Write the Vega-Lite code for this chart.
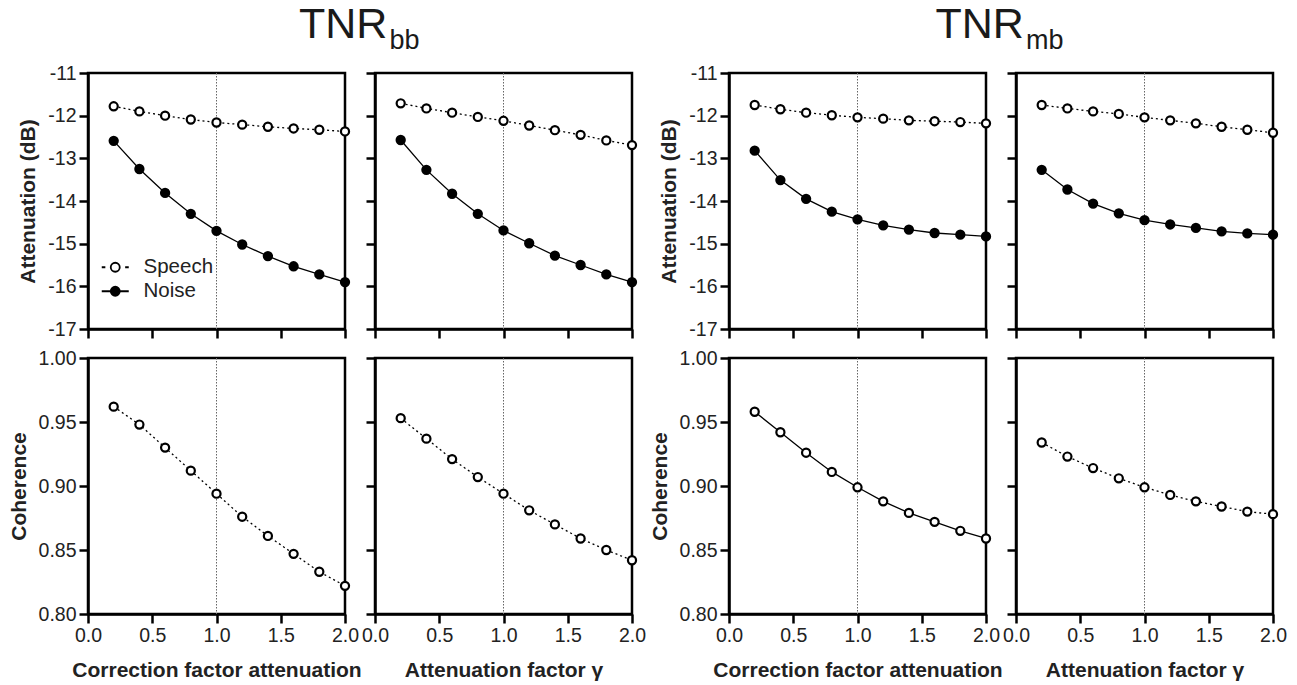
{
  "$schema": "https://vega.github.io/schema/vega-lite/v6.json",
  "padding": {"left": 6, "top": 2, "right": 0, "bottom": 0},
  "background": "white",
  "config": {
    "font": "Liberation Sans",
    "view": {"stroke": "black", "strokeWidth": 2.5},
    "axis": {
      "domainColor": "black", "domainWidth": 2.5, "tickColor": "black", "tickWidth": 2.5, "tickSize": 9,
      "labelFont": "Liberation Sans", "labelFontSize": 19.5, "labelColor": "#222", "labelPadding": 3,
      "titleFont": "Liberation Sans", "titleFontSize": 21, "titleFontWeight": "bold", "titleColor": "#222",
      "grid": false, "labelFlush": false, "labelOverlap": false, "labelBound": false
    },
    "axisY": {"titlePadding": 9},
    "axisX": {"titlePadding": 15}
  },
  "datasets": {
    "titles": [
      {"tnr": "bb", "main": "TNR", "sub": "bb"},
      {"tnr": "mb", "main": "TNR", "sub": "mb"}
    ],
    "bb_corr_att": [
      {"series": "Speech", "factor": 0.2, "value": -11.78}, {"series": "Speech", "factor": 0.4, "value": -11.90},
      {"series": "Speech", "factor": 0.6, "value": -12.00}, {"series": "Speech", "factor": 0.8, "value": -12.09},
      {"series": "Speech", "factor": 1.0, "value": -12.16}, {"series": "Speech", "factor": 1.2, "value": -12.21},
      {"series": "Speech", "factor": 1.4, "value": -12.26}, {"series": "Speech", "factor": 1.6, "value": -12.30},
      {"series": "Speech", "factor": 1.8, "value": -12.33}, {"series": "Speech", "factor": 2.0, "value": -12.37},
      {"series": "Noise", "factor": 0.2, "value": -12.59}, {"series": "Noise", "factor": 0.4, "value": -13.25},
      {"series": "Noise", "factor": 0.6, "value": -13.81}, {"series": "Noise", "factor": 0.8, "value": -14.30},
      {"series": "Noise", "factor": 1.0, "value": -14.70}, {"series": "Noise", "factor": 1.2, "value": -15.02},
      {"series": "Noise", "factor": 1.4, "value": -15.29}, {"series": "Noise", "factor": 1.6, "value": -15.53},
      {"series": "Noise", "factor": 1.8, "value": -15.72}, {"series": "Noise", "factor": 2.0, "value": -15.90}
    ],
    "bb_att_att": [
      {"series": "Speech", "factor": 0.2, "value": -11.71}, {"series": "Speech", "factor": 0.4, "value": -11.83},
      {"series": "Speech", "factor": 0.6, "value": -11.93}, {"series": "Speech", "factor": 0.8, "value": -12.03},
      {"series": "Speech", "factor": 1.0, "value": -12.12}, {"series": "Speech", "factor": 1.2, "value": -12.23},
      {"series": "Speech", "factor": 1.4, "value": -12.34}, {"series": "Speech", "factor": 1.6, "value": -12.45},
      {"series": "Speech", "factor": 1.8, "value": -12.58}, {"series": "Speech", "factor": 2.0, "value": -12.69},
      {"series": "Noise", "factor": 0.2, "value": -12.57}, {"series": "Noise", "factor": 0.4, "value": -13.27},
      {"series": "Noise", "factor": 0.6, "value": -13.83}, {"series": "Noise", "factor": 0.8, "value": -14.30},
      {"series": "Noise", "factor": 1.0, "value": -14.69}, {"series": "Noise", "factor": 1.2, "value": -14.99},
      {"series": "Noise", "factor": 1.4, "value": -15.28}, {"series": "Noise", "factor": 1.6, "value": -15.50},
      {"series": "Noise", "factor": 1.8, "value": -15.72}, {"series": "Noise", "factor": 2.0, "value": -15.90}
    ],
    "mb_corr_att": [
      {"series": "Speech", "factor": 0.2, "value": -11.75}, {"series": "Speech", "factor": 0.4, "value": -11.85},
      {"series": "Speech", "factor": 0.6, "value": -11.93}, {"series": "Speech", "factor": 0.8, "value": -11.99},
      {"series": "Speech", "factor": 1.0, "value": -12.04}, {"series": "Speech", "factor": 1.2, "value": -12.07},
      {"series": "Speech", "factor": 1.4, "value": -12.11}, {"series": "Speech", "factor": 1.6, "value": -12.13},
      {"series": "Speech", "factor": 1.8, "value": -12.15}, {"series": "Speech", "factor": 2.0, "value": -12.18},
      {"series": "Noise", "factor": 0.2, "value": -12.82}, {"series": "Noise", "factor": 0.4, "value": -13.51},
      {"series": "Noise", "factor": 0.6, "value": -13.95}, {"series": "Noise", "factor": 0.8, "value": -14.25},
      {"series": "Noise", "factor": 1.0, "value": -14.43}, {"series": "Noise", "factor": 1.2, "value": -14.57},
      {"series": "Noise", "factor": 1.4, "value": -14.67}, {"series": "Noise", "factor": 1.6, "value": -14.75},
      {"series": "Noise", "factor": 1.8, "value": -14.79}, {"series": "Noise", "factor": 2.0, "value": -14.83}
    ],
    "mb_att_att": [
      {"series": "Speech", "factor": 0.2, "value": -11.75}, {"series": "Speech", "factor": 0.4, "value": -11.83},
      {"series": "Speech", "factor": 0.6, "value": -11.90}, {"series": "Speech", "factor": 0.8, "value": -11.96},
      {"series": "Speech", "factor": 1.0, "value": -12.04}, {"series": "Speech", "factor": 1.2, "value": -12.11},
      {"series": "Speech", "factor": 1.4, "value": -12.18}, {"series": "Speech", "factor": 1.6, "value": -12.26},
      {"series": "Speech", "factor": 1.8, "value": -12.33}, {"series": "Speech", "factor": 2.0, "value": -12.40},
      {"series": "Noise", "factor": 0.2, "value": -13.27}, {"series": "Noise", "factor": 0.4, "value": -13.73},
      {"series": "Noise", "factor": 0.6, "value": -14.06}, {"series": "Noise", "factor": 0.8, "value": -14.29},
      {"series": "Noise", "factor": 1.0, "value": -14.45}, {"series": "Noise", "factor": 1.2, "value": -14.55},
      {"series": "Noise", "factor": 1.4, "value": -14.63}, {"series": "Noise", "factor": 1.6, "value": -14.71},
      {"series": "Noise", "factor": 1.8, "value": -14.76}, {"series": "Noise", "factor": 2.0, "value": -14.79}
    ],
    "bb_corr_coh": [
      {"factor": 0.2, "value": 0.962}, {"factor": 0.4, "value": 0.948}, {"factor": 0.6, "value": 0.930},
      {"factor": 0.8, "value": 0.912}, {"factor": 1.0, "value": 0.894}, {"factor": 1.2, "value": 0.876},
      {"factor": 1.4, "value": 0.861}, {"factor": 1.6, "value": 0.847}, {"factor": 1.8, "value": 0.833},
      {"factor": 2.0, "value": 0.822}
    ],
    "bb_att_coh": [
      {"factor": 0.2, "value": 0.953}, {"factor": 0.4, "value": 0.937}, {"factor": 0.6, "value": 0.921},
      {"factor": 0.8, "value": 0.907}, {"factor": 1.0, "value": 0.894}, {"factor": 1.2, "value": 0.881},
      {"factor": 1.4, "value": 0.870}, {"factor": 1.6, "value": 0.859}, {"factor": 1.8, "value": 0.850},
      {"factor": 2.0, "value": 0.842}
    ],
    "mb_corr_coh": [
      {"factor": 0.2, "value": 0.958}, {"factor": 0.4, "value": 0.942}, {"factor": 0.6, "value": 0.926},
      {"factor": 0.8, "value": 0.911}, {"factor": 1.0, "value": 0.899}, {"factor": 1.2, "value": 0.888},
      {"factor": 1.4, "value": 0.879}, {"factor": 1.6, "value": 0.872}, {"factor": 1.8, "value": 0.865},
      {"factor": 2.0, "value": 0.859}
    ],
    "mb_att_coh": [
      {"factor": 0.2, "value": 0.934}, {"factor": 0.4, "value": 0.923}, {"factor": 0.6, "value": 0.914},
      {"factor": 0.8, "value": 0.906}, {"factor": 1.0, "value": 0.899}, {"factor": 1.2, "value": 0.893},
      {"factor": 1.4, "value": 0.888}, {"factor": 1.6, "value": 0.884}, {"factor": 1.8, "value": 0.880},
      {"factor": 2.0, "value": 0.878}
    ]
  },
  "concat": [
    {
      "width": 257, "height": 256,
      "layer": [
        {"data": {"values": [{}]}, "mark": {"type": "rule", "color": "#666", "strokeWidth": 1, "strokeDash": [1.5, 1.5]},
         "encoding": {"x": {"datum": 1, "type": "quantitative", "scale": {"domain": [0, 2], "nice": false}}}},
        {"data": {"name": "bb_corr_att"}, "transform": [{"filter": "datum.series === 'Speech'"}],
         "mark": {"type": "line", "color": "black", "strokeWidth": 1.3, "strokeDash": [2, 3]},
         "encoding": {
           "x": {"field": "factor", "type": "quantitative", "scale": {"domain": [0, 2], "nice": false}, "axis": {"values": [0, 0.5, 1, 1.5, 2], "labels": false, "title": null}},
           "y": {"field": "value", "type": "quantitative", "scale": {"domain": [-17, -11], "nice": false, "zero": false}, "axis": {"values": [-17, -16, -15, -14, -13, -12, -11], "labelExpr": "toString(datum.value)", "title": "Attenuation (dB)"}}}},
        {"data": {"name": "bb_corr_att"}, "transform": [{"filter": "datum.series === 'Noise'"}],
         "mark": {"type": "line", "color": "black", "strokeWidth": 1.3},
         "encoding": {"x": {"field": "factor", "type": "quantitative"}, "y": {"field": "value", "type": "quantitative"}}},
        {"data": {"name": "bb_corr_att"},
         "mark": {"type": "point", "filled": true, "size": 66, "stroke": "black", "strokeWidth": 2.2, "opacity": 1},
         "encoding": {"x": {"field": "factor", "type": "quantitative"}, "y": {"field": "value", "type": "quantitative"},
           "fill": {"condition": {"test": "datum.series === 'Speech'", "value": "white"}, "value": "black"}}},
        {"data": {"name": "bb_corr_att"}, "transform": [{"filter": "false"}],
         "mark": {"type": "point", "filled": true, "stroke": "black", "strokeWidth": 1.8, "opacity": 1},
         "encoding": {
           "x": {"field": "factor", "type": "quantitative"}, "y": {"field": "value", "type": "quantitative"},
           "fill": {"field": "series", "type": "nominal", "scale": {"domain": ["Speech", "Noise"], "range": ["white", "black"]},
             "legend": {"title": null, "orient": "none", "legendX": 17, "legendY": 184, "padding": 0,
               "labelFontSize": 20.5, "labelFont": "Liberation Sans", "labelColor": "#222", "labelOffset": 18,
               "symbolSize": 81, "rowPadding": 3, "symbolStrokeWidth": 1.8, "symbolStrokeColor": "black", "symbolOpacity": 1}},
           "shape": {"field": "series", "type": "nominal", "scale": {"domain": ["Speech", "Noise"],
             "range": ["M-3,0H-2.2M2.2,0H3M1,0A1,1,0,1,1,-1,0A1,1,0,1,1,1,0Z", "M-3,0H3M1,0A1,1,0,1,1,-1,0A1,1,0,1,1,1,0Z"]}}}},
        {"data": {"name": "titles"}, "transform": [{"filter": "datum.tnr === 'bb'"}],
         "mark": {"type": "text", "align": "right", "baseline": "alphabetic", "fontSize": 43, "color": "#1a1a1a", "font": "Liberation Sans"},
         "encoding": {"x": {"datum": 2.33, "type": "quantitative"}, "y": {"datum": -10.17, "type": "quantitative"}, "text": {"field": "main"}}},
        {"data": {"name": "titles"}, "transform": [{"filter": "datum.tnr === 'bb'"}],
         "mark": {"type": "text", "align": "left", "baseline": "alphabetic", "dx": 2, "fontSize": 27, "color": "#1a1a1a", "font": "Liberation Sans"},
         "encoding": {"x": {"datum": 2.33, "type": "quantitative"}, "y": {"datum": -10.43, "type": "quantitative"}, "text": {"field": "sub"}}}
      ]
    },
    {
      "width": 257, "height": 256,
      "layer": [
        {"data": {"values": [{}]}, "mark": {"type": "rule", "color": "#666", "strokeWidth": 1, "strokeDash": [1.5, 1.5]},
         "encoding": {"x": {"datum": 1, "type": "quantitative", "scale": {"domain": [0, 2], "nice": false}}}},
        {"data": {"name": "bb_att_att"}, "transform": [{"filter": "datum.series === 'Speech'"}],
         "mark": {"type": "line", "color": "black", "strokeWidth": 1.3, "strokeDash": [2, 3]},
         "encoding": {
           "x": {"field": "factor", "type": "quantitative", "scale": {"domain": [0, 2], "nice": false}, "axis": {"values": [0, 0.5, 1, 1.5, 2], "labels": false, "title": null}},
           "y": {"field": "value", "type": "quantitative", "scale": {"domain": [-17, -11], "nice": false, "zero": false}, "axis": {"values": [-17, -16, -15, -14, -13, -12, -11], "labels": false, "title": null}}}},
        {"data": {"name": "bb_att_att"}, "transform": [{"filter": "datum.series === 'Noise'"}],
         "mark": {"type": "line", "color": "black", "strokeWidth": 1.3},
         "encoding": {"x": {"field": "factor", "type": "quantitative"}, "y": {"field": "value", "type": "quantitative"}}},
        {"data": {"name": "bb_att_att"},
         "mark": {"type": "point", "filled": true, "size": 66, "stroke": "black", "strokeWidth": 2.2, "opacity": 1},
         "encoding": {"x": {"field": "factor", "type": "quantitative"}, "y": {"field": "value", "type": "quantitative"},
           "fill": {"condition": {"test": "datum.series === 'Speech'", "value": "white"}, "value": "black"}}}
      ]
    },
    {
      "width": 37, "height": 256, "view": {"stroke": null},
      "data": {"values": []}, "mark": "point", "encoding": {}
    },
    {
      "width": 257, "height": 256,
      "layer": [
        {"data": {"values": [{}]}, "mark": {"type": "rule", "color": "#666", "strokeWidth": 1, "strokeDash": [1.5, 1.5]},
         "encoding": {"x": {"datum": 1, "type": "quantitative", "scale": {"domain": [0, 2], "nice": false}}}},
        {"data": {"name": "mb_corr_att"}, "transform": [{"filter": "datum.series === 'Speech'"}],
         "mark": {"type": "line", "color": "black", "strokeWidth": 1.3, "strokeDash": [2, 3]},
         "encoding": {
           "x": {"field": "factor", "type": "quantitative", "scale": {"domain": [0, 2], "nice": false}, "axis": {"values": [0, 0.5, 1, 1.5, 2], "labels": false, "title": null}},
           "y": {"field": "value", "type": "quantitative", "scale": {"domain": [-17, -11], "nice": false, "zero": false}, "axis": {"values": [-17, -16, -15, -14, -13, -12, -11], "labelExpr": "toString(datum.value)", "title": "Attenuation (dB)"}}}},
        {"data": {"name": "mb_corr_att"}, "transform": [{"filter": "datum.series === 'Noise'"}],
         "mark": {"type": "line", "color": "black", "strokeWidth": 1.3},
         "encoding": {"x": {"field": "factor", "type": "quantitative"}, "y": {"field": "value", "type": "quantitative"}}},
        {"data": {"name": "mb_corr_att"},
         "mark": {"type": "point", "filled": true, "size": 66, "stroke": "black", "strokeWidth": 2.2, "opacity": 1},
         "encoding": {"x": {"field": "factor", "type": "quantitative"}, "y": {"field": "value", "type": "quantitative"},
           "fill": {"condition": {"test": "datum.series === 'Speech'", "value": "white"}, "value": "black"}}},
        {"data": {"name": "titles"}, "transform": [{"filter": "datum.tnr === 'mb'"}],
         "mark": {"type": "text", "align": "right", "baseline": "alphabetic", "fontSize": 43, "color": "#1a1a1a", "font": "Liberation Sans"},
         "encoding": {"x": {"datum": 2.295, "type": "quantitative"}, "y": {"datum": -10.17, "type": "quantitative"}, "text": {"field": "main"}}},
        {"data": {"name": "titles"}, "transform": [{"filter": "datum.tnr === 'mb'"}],
         "mark": {"type": "text", "align": "left", "baseline": "alphabetic", "dx": 2, "fontSize": 27, "color": "#1a1a1a", "font": "Liberation Sans"},
         "encoding": {"x": {"datum": 2.295, "type": "quantitative"}, "y": {"datum": -10.43, "type": "quantitative"}, "text": {"field": "sub"}}}
      ]
    },
    {
      "width": 257, "height": 256,
      "layer": [
        {"data": {"values": [{}]}, "mark": {"type": "rule", "color": "#666", "strokeWidth": 1, "strokeDash": [1.5, 1.5]},
         "encoding": {"x": {"datum": 1, "type": "quantitative", "scale": {"domain": [0, 2], "nice": false}}}},
        {"data": {"name": "mb_att_att"}, "transform": [{"filter": "datum.series === 'Speech'"}],
         "mark": {"type": "line", "color": "black", "strokeWidth": 1.3, "strokeDash": [2, 3]},
         "encoding": {
           "x": {"field": "factor", "type": "quantitative", "scale": {"domain": [0, 2], "nice": false}, "axis": {"values": [0, 0.5, 1, 1.5, 2], "labels": false, "title": null}},
           "y": {"field": "value", "type": "quantitative", "scale": {"domain": [-17, -11], "nice": false, "zero": false}, "axis": {"values": [-17, -16, -15, -14, -13, -12, -11], "labels": false, "title": null}}}},
        {"data": {"name": "mb_att_att"}, "transform": [{"filter": "datum.series === 'Noise'"}],
         "mark": {"type": "line", "color": "black", "strokeWidth": 1.3},
         "encoding": {"x": {"field": "factor", "type": "quantitative"}, "y": {"field": "value", "type": "quantitative"}}},
        {"data": {"name": "mb_att_att"},
         "mark": {"type": "point", "filled": true, "size": 66, "stroke": "black", "strokeWidth": 2.2, "opacity": 1},
         "encoding": {"x": {"field": "factor", "type": "quantitative"}, "y": {"field": "value", "type": "quantitative"},
           "fill": {"condition": {"test": "datum.series === 'Speech'", "value": "white"}, "value": "black"}}}
      ]
    },
    {
      "width": 257, "height": 256,
      "layer": [
        {"data": {"values": [{}]}, "mark": {"type": "rule", "color": "#666", "strokeWidth": 1, "strokeDash": [1.5, 1.5]},
         "encoding": {"x": {"datum": 1, "type": "quantitative", "scale": {"domain": [0, 2], "nice": false}}}},
        {"data": {"name": "bb_corr_coh"},
         "mark": {"type": "line", "color": "black", "strokeWidth": 1.3, "strokeDash": [2, 3]},
         "encoding": {
           "x": {"field": "factor", "type": "quantitative", "scale": {"domain": [0, 2], "nice": false}, "axis": {"values": [0, 0.5, 1, 1.5, 2], "format": ".1f", "title": "Correction factor attenuation"}},
           "y": {"field": "value", "type": "quantitative", "scale": {"domain": [0.8, 1.0], "nice": false, "zero": false}, "axis": {"values": [0.8, 0.85, 0.9, 0.95, 1.0], "format": ".2f", "title": "Coherence"}}}},
        {"data": {"name": "bb_corr_coh"},
         "mark": {"type": "point", "filled": true, "fill": "white", "size": 66, "stroke": "black", "strokeWidth": 2.2, "opacity": 1},
         "encoding": {"x": {"field": "factor", "type": "quantitative"}, "y": {"field": "value", "type": "quantitative"}}}
      ]
    },
    {
      "width": 257, "height": 256,
      "layer": [
        {"data": {"values": [{}]}, "mark": {"type": "rule", "color": "#666", "strokeWidth": 1, "strokeDash": [1.5, 1.5]},
         "encoding": {"x": {"datum": 1, "type": "quantitative", "scale": {"domain": [0, 2], "nice": false}}}},
        {"data": {"name": "bb_att_coh"},
         "mark": {"type": "line", "color": "black", "strokeWidth": 1.3, "strokeDash": [2, 3]},
         "encoding": {
           "x": {"field": "factor", "type": "quantitative", "scale": {"domain": [0, 2], "nice": false}, "axis": {"values": [0, 0.5, 1, 1.5, 2], "format": ".1f", "title": "Attenuation factor γ"}},
           "y": {"field": "value", "type": "quantitative", "scale": {"domain": [0.8, 1.0], "nice": false, "zero": false}, "axis": {"values": [0.8, 0.85, 0.9, 0.95, 1.0], "labels": false, "title": null}}}},
        {"data": {"name": "bb_att_coh"},
         "mark": {"type": "point", "filled": true, "fill": "white", "size": 66, "stroke": "black", "strokeWidth": 2.2, "opacity": 1},
         "encoding": {"x": {"field": "factor", "type": "quantitative"}, "y": {"field": "value", "type": "quantitative"}}}
      ]
    },
    {
      "width": 37, "height": 256, "view": {"stroke": null},
      "data": {"values": []}, "mark": "point", "encoding": {}
    },
    {
      "width": 257, "height": 256,
      "layer": [
        {"data": {"values": [{}]}, "mark": {"type": "rule", "color": "#666", "strokeWidth": 1, "strokeDash": [1.5, 1.5]},
         "encoding": {"x": {"datum": 1, "type": "quantitative", "scale": {"domain": [0, 2], "nice": false}}}},
        {"data": {"name": "mb_corr_coh"},
         "mark": {"type": "line", "color": "black", "strokeWidth": 1.3},
         "encoding": {
           "x": {"field": "factor", "type": "quantitative", "scale": {"domain": [0, 2], "nice": false}, "axis": {"values": [0, 0.5, 1, 1.5, 2], "format": ".1f", "title": "Correction factor attenuation"}},
           "y": {"field": "value", "type": "quantitative", "scale": {"domain": [0.8, 1.0], "nice": false, "zero": false}, "axis": {"values": [0.8, 0.85, 0.9, 0.95, 1.0], "format": ".2f", "title": "Coherence"}}}},
        {"data": {"name": "mb_corr_coh"},
         "mark": {"type": "point", "filled": true, "fill": "white", "size": 66, "stroke": "black", "strokeWidth": 2.2, "opacity": 1},
         "encoding": {"x": {"field": "factor", "type": "quantitative"}, "y": {"field": "value", "type": "quantitative"}}}
      ]
    },
    {
      "width": 257, "height": 256,
      "layer": [
        {"data": {"values": [{}]}, "mark": {"type": "rule", "color": "#666", "strokeWidth": 1, "strokeDash": [1.5, 1.5]},
         "encoding": {"x": {"datum": 1, "type": "quantitative", "scale": {"domain": [0, 2], "nice": false}}}},
        {"data": {"name": "mb_att_coh"},
         "mark": {"type": "line", "color": "black", "strokeWidth": 1.3, "strokeDash": [2, 3]},
         "encoding": {
           "x": {"field": "factor", "type": "quantitative", "scale": {"domain": [0, 2], "nice": false}, "axis": {"values": [0, 0.5, 1, 1.5, 2], "format": ".1f", "title": "Attenuation factor γ"}},
           "y": {"field": "value", "type": "quantitative", "scale": {"domain": [0.8, 1.0], "nice": false, "zero": false}, "axis": {"values": [0.8, 0.85, 0.9, 0.95, 1.0], "labels": false, "title": null}}}},
        {"data": {"name": "mb_att_coh"},
         "mark": {"type": "point", "filled": true, "fill": "white", "size": 66, "stroke": "black", "strokeWidth": 2.2, "opacity": 1},
         "encoding": {"x": {"field": "factor", "type": "quantitative"}, "y": {"field": "value", "type": "quantitative"}}}
      ]
    }
  ],
  "columns": 5,
  "spacing": {"row": 29, "column": 30},
  "bounds": "flush",
  "resolve": {"scale": {"fill": "independent", "shape": "independent"}}
}
